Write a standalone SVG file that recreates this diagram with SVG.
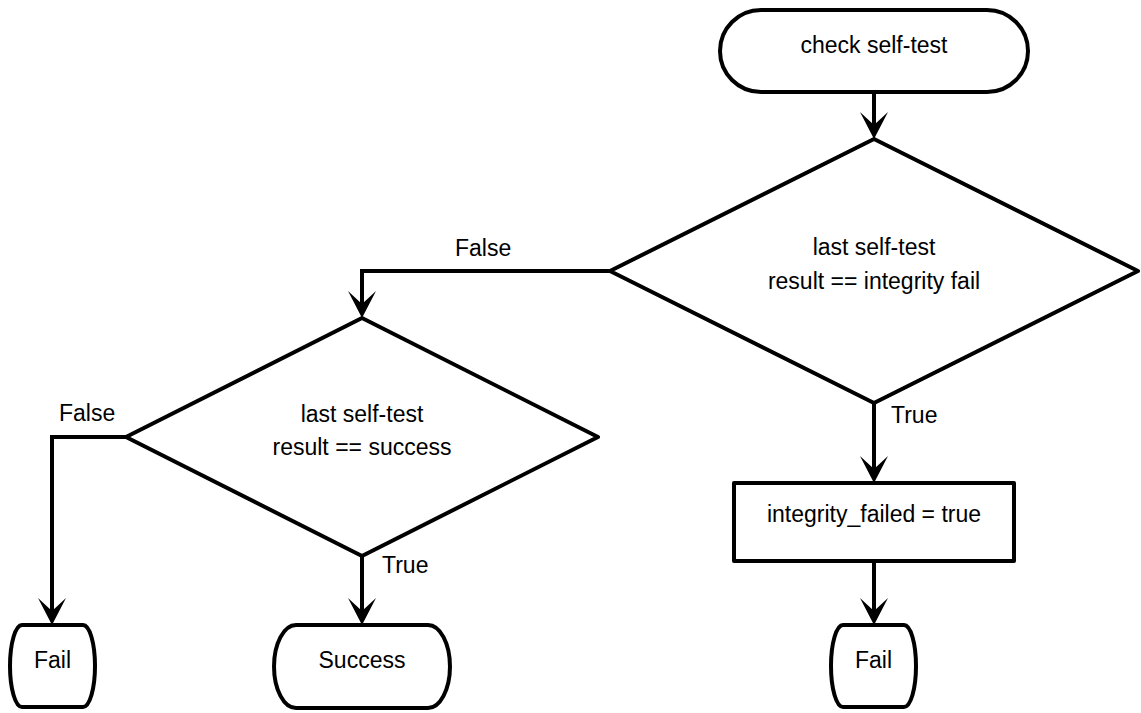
<svg xmlns="http://www.w3.org/2000/svg" width="1141" height="713" viewBox="0 0 1141 713">
<style>
.shape{fill:#fff;stroke:#000;stroke-width:4;stroke-linejoin:round}
.edge{fill:none;stroke:#000;stroke-width:4}
text{font-family:"Liberation Sans",Arial,sans-serif;font-size:23px;fill:#000}
.c{text-anchor:middle}
</style>
<defs>
<marker id="arr" markerUnits="userSpaceOnUse" viewBox="-14 -15 29 30" markerWidth="29" markerHeight="30" refX="0" refY="0" orient="auto">
<path d="M14,0 L-13,-14 L0,0 L-13,14 Z" fill="#000"/>
</marker>
</defs>
<g id="connectors">
<path class="edge" d="M874,92 V125" marker-end="url(#arr)"/>
<path class="edge" d="M610,271 H362 V304" marker-end="url(#arr)"/>
<path class="edge" d="M126,437 H52 V611" marker-end="url(#arr)"/>
<path class="edge" d="M362,556 V611" marker-end="url(#arr)"/>
<path class="edge" d="M874,403 V469" marker-end="url(#arr)"/>
<path class="edge" d="M874,561 V611" marker-end="url(#arr)"/>
<text x="455" y="256">False</text>
<text x="59" y="421">False</text>
<text x="891" y="423">True</text>
<text x="382" y="573">True</text>
</g>
<g id="start">
<path class="shape" d="M761,10 H987 A41,41 0 0 1 987,92 H761 A41,41 0 0 1 761,10 Z"/>
<text class="c" x="874" y="53">check self-test</text>
</g>
<g id="dec1">
<path class="shape" d="M874,139 L1138,271 L874,403 L610,271 Z"/>
<text class="c" x="874" y="255">last self-test</text>
<text class="c" x="874" y="289">result == integrity fail</text>
</g>
<g id="dec2">
<path class="shape" d="M362,318 L598,437 L362,556 L126,437 Z"/>
<text class="c" x="362" y="422">last self-test</text>
<text class="c" x="362" y="455">result == success</text>
</g>
<g id="setflag">
<rect class="shape" x="734" y="483" width="280" height="78"/>
<text class="c" x="874" y="522">integrity_failed = true</text>
</g>
<g id="fail1">
<path class="shape" d="M22,625 H83 A12,41 0 0 1 83,707 H22 A12,41 0 0 1 22,625 Z"/>
<text class="c" x="52.5" y="668">Fail</text>
</g>
<g id="success">
<path class="shape" d="M296,625 H428 A22,41.5 0 0 1 428,708 H296 A22,41.5 0 0 1 296,625 Z"/>
<text class="c" x="362" y="668">Success</text>
</g>
<g id="fail2">
<path class="shape" d="M843,625 H904 A12,41 0 0 1 904,707 H843 A12,41 0 0 1 843,625 Z"/>
<text class="c" x="873.5" y="668">Fail</text>
</g>
</svg>
